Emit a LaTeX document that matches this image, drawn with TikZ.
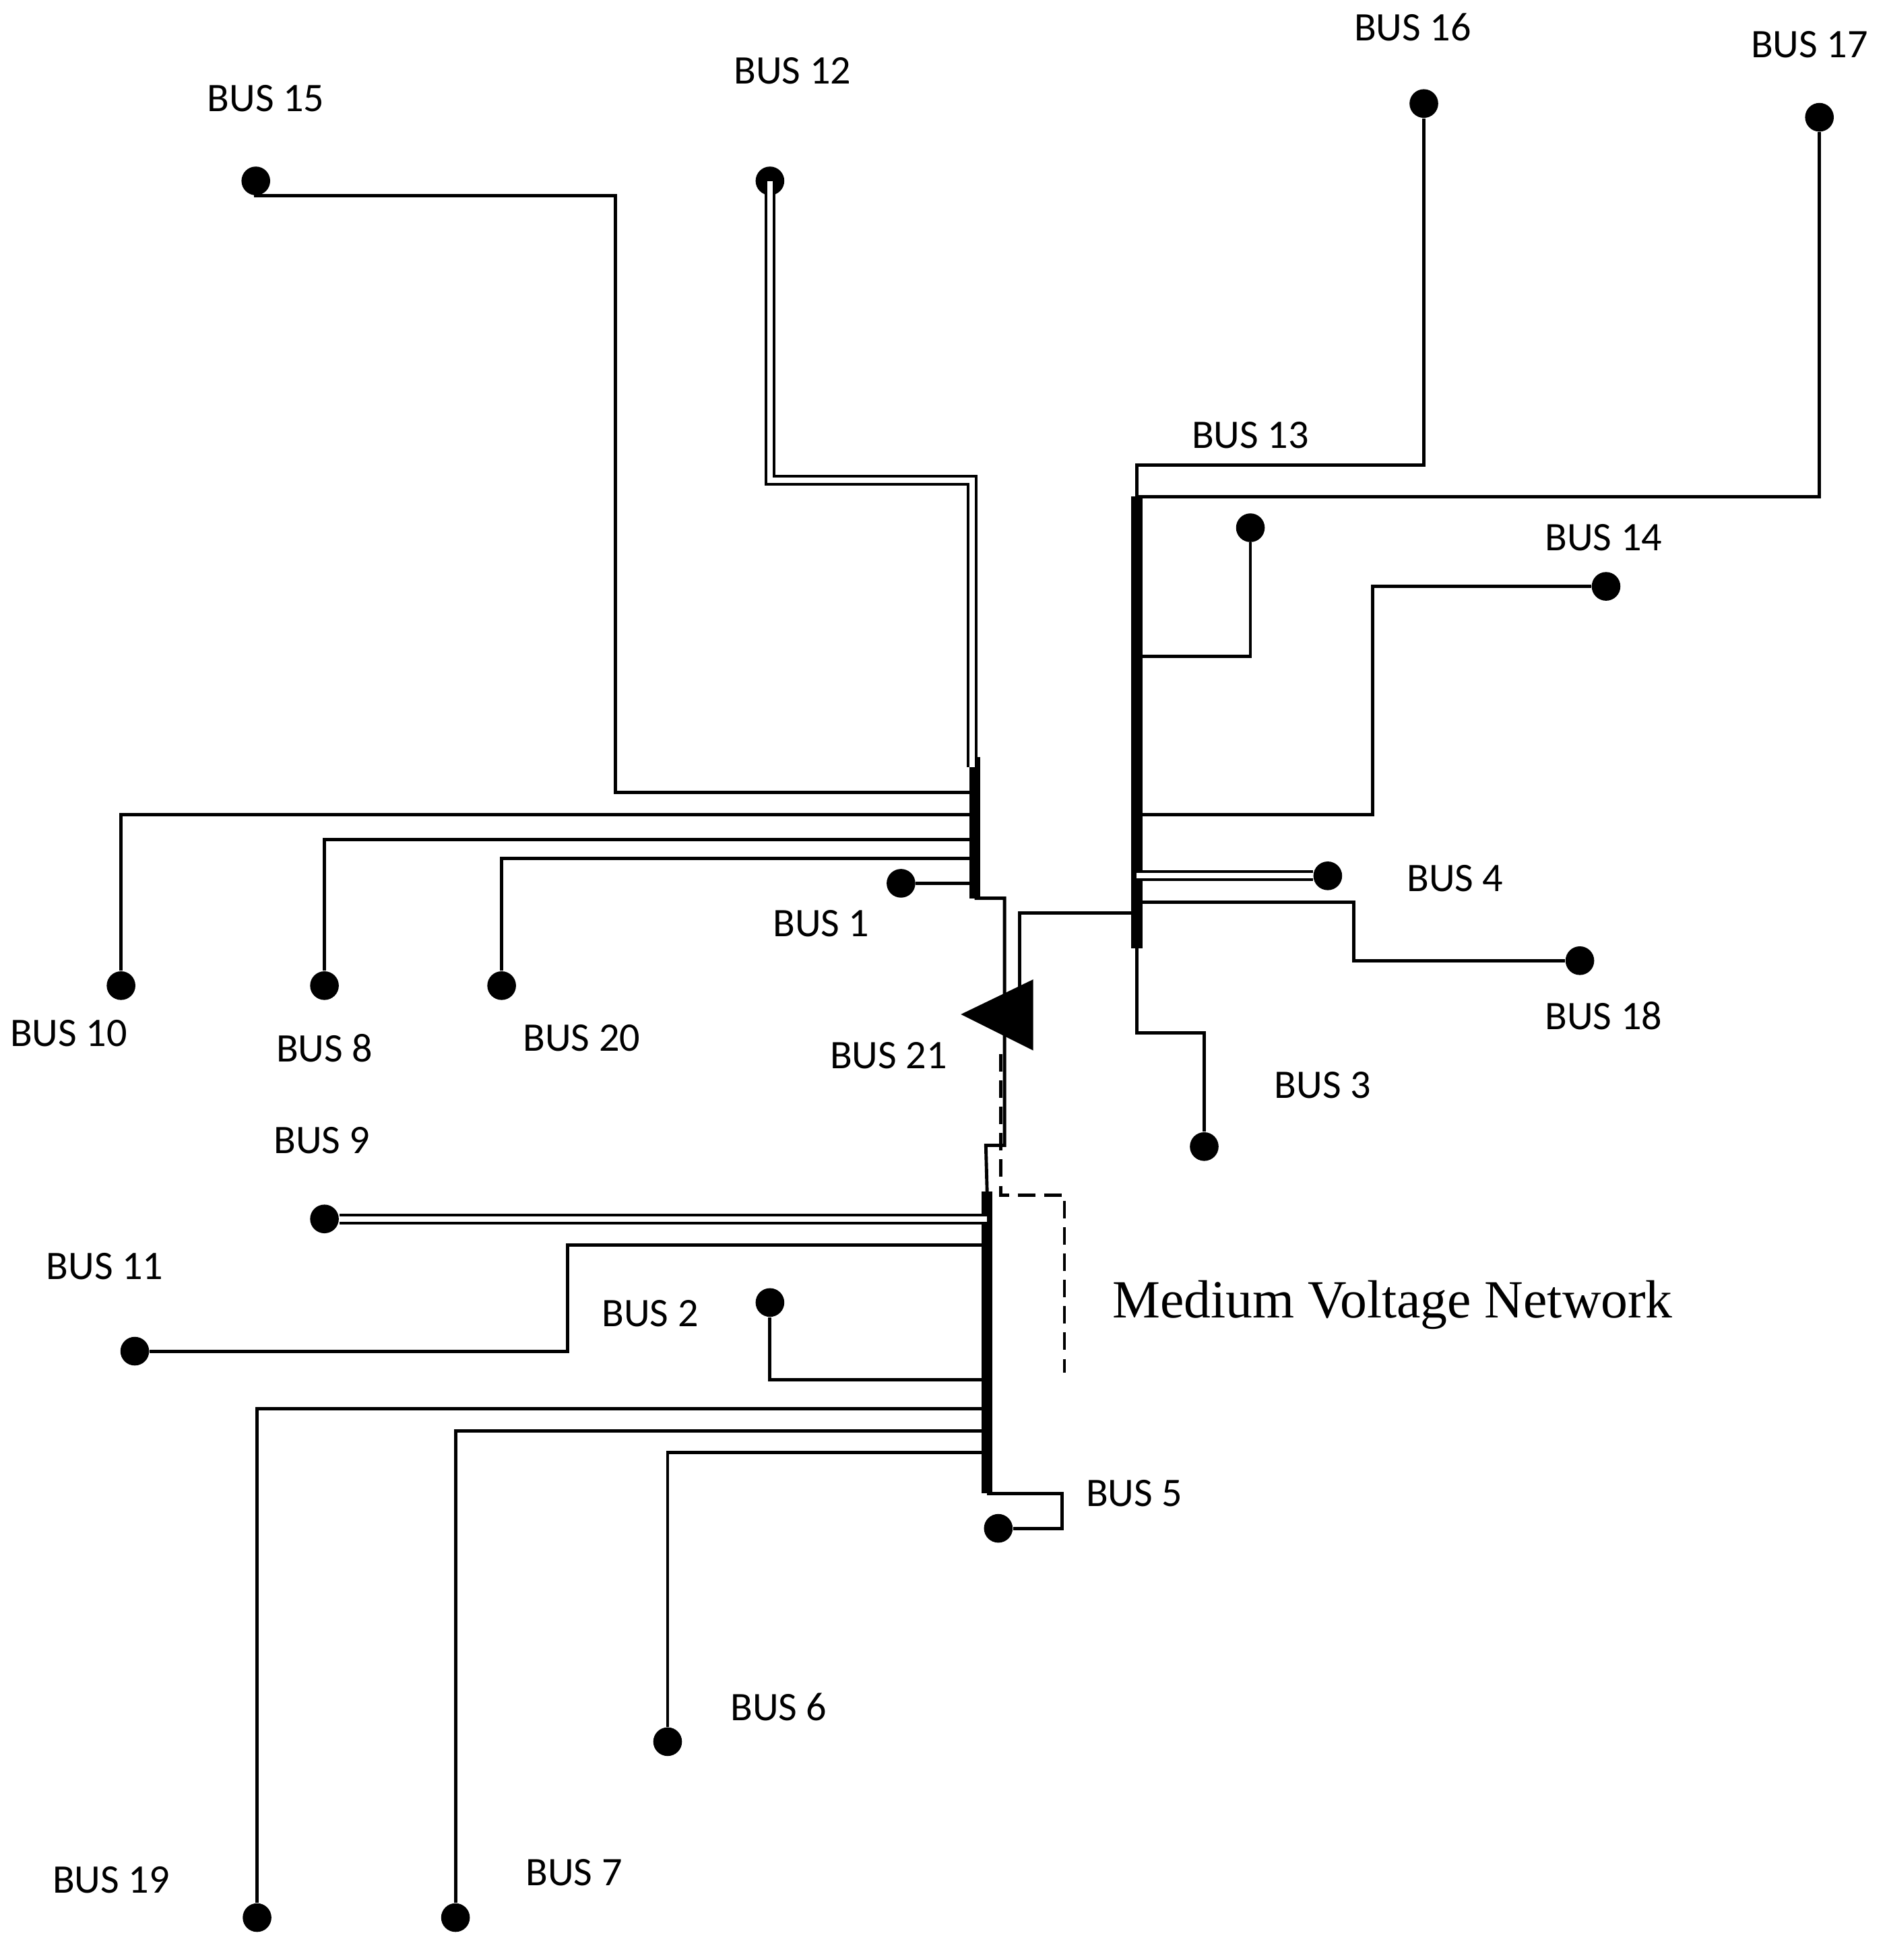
\documentclass[tikz,border=0pt]{standalone}
\usepackage{fontspec}
\setmainfont{Liberation Serif}
\newfontfamily\lbl{Carlito}
\begin{document}
\begin{tikzpicture}[x=0.02cm,y=-0.02cm,
  dot/.style={circle,fill=black,inner sep=0pt,minimum size=0.46cm},
  lab/.style={font=\lbl\fontsize{18.5}{22}\selectfont,inner sep=0pt},
  ln/.style={line width=1.5pt},
  dbl/.style={line width=1.3pt,double distance=2.4pt},
  bar/.style={line width=5pt}]
\useasboundingbox (0,0) rectangle (1512,1571);
% dots
\node[dot] (b15) at (205,145) {};
\node[dot] (b12) at (617,145) {};
\node[dot] (b16) at (1141,83) {};
\node[dot] (b17) at (1458,94) {};
\node[dot] (bx) at (1002,423) {};
\node[dot] (b14) at (1287,470) {};
\node[dot] (b4) at (1064,702) {};
\node[dot] (b18) at (1266,770) {};
\node[dot] (b3) at (965,919) {};
\node[dot] (b1) at (722,708) {};
\node[dot] (b10) at (97,790) {};
\node[dot] (b8) at (260,790) {};
\node[dot] (b20) at (402,790) {};
\node[dot] (b9) at (260,977) {};
\node[dot] (b11) at (108,1083) {};
\node[dot] (b2) at (617,1044) {};
\node[dot] (b19) at (206,1537) {};
\node[dot] (b7) at (365,1537) {};
\node[dot] (b6) at (535,1396) {};
\node[dot] (b5) at (800,1225) {};
% bus bars
\coordinate (Lt) at (781,607); \coordinate (Lb) at (781,720);
\coordinate (Rt) at (911,398); \coordinate (Rb) at (911,760);
\coordinate (Dt) at (791,955); \coordinate (Db) at (791,1197);
\draw[bar] (Lt) -- (Lb);
\draw[bar] (Rt) -- (Rb);
\draw[bar] (Dt) -- (Db);
% left bus feeders
\draw[ln] (b15.center) -- (205,157) -- (493,157) -- (493,635) -- (781,635);
\draw[dbl] (b12.center) -- (617,385) -- (779,385) -- (779,615);
\draw[ln] (b10) -- (97,653) -- (781,653);
\draw[ln] (b8) -- (260,673) -- (781,673);
\draw[ln] (b20) -- (402,688) -- (781,688);
\draw[ln] (b1) -- (781,708);
% transformer
\coordinate (tr) at (770,813);
\fill (tr) -- (828,785) -- (828,842) -- cycle;
\draw[ln] (Lb) -- (805,720) -- (805,918) -- (790,918) -- (Dt);
\draw[ln] (817,800) -- (817,732) -- (911,732);
\draw[line width=1.5pt,dash pattern=on 8pt off 4pt] (802,845) -- (802,958) -- (853,958) -- (853,1100);
% right bus feeders
\draw[ln] (Rt) -- (911,373) -- (1141,373) -- (b16);
\draw[ln] (b17) -- (1458,398) -- (911,398);
\draw[ln] (bx) -- (1002,526) -- (911,526);
\draw[ln] (b14) -- (1100,470) -- (1100,653) -- (911,653);
\draw[dbl] (b4) -- (911,702);
\draw[ln] (b18) -- (1085,770) -- (1085,723) -- (911,723);
\draw[ln] (Rb) -- (911,828) -- (965,828) -- (b3);
% lower bus feeders
\draw[dbl] (b9) -- (791,977);
\draw[ln] (b11) -- (455,1083) -- (455,998) -- (791,998);
\draw[ln] (b2) -- (617,1106) -- (791,1106);
\draw[ln] (b19) -- (206,1129) -- (791,1129);
\draw[ln] (b7) -- (365,1147) -- (791,1147);
\draw[ln] (b6) -- (535,1164) -- (791,1164);
\draw[ln] (Db) -- (851,1197) -- (851,1225) -- (b5);
% labels
\node[lab] at (213,79) {BUS 15};
\node[lab] at (635,57) {BUS 12};
\node[lab] at (1132,22) {BUS 16};
\node[lab] at (1450,36) {BUS 17};
\node[lab] at (1002,349) {BUS 13};
\node[lab] at (1285,431) {BUS 14};
\node[lab] at (1166,704) {BUS 4};
\node[lab] at (1285,814) {BUS 18};
\node[lab] at (1060,870) {BUS 3};
\node[lab] at (712,846) {BUS 21};
\node[lab] at (658,740) {BUS 1};
\node[lab] at (55,828) {BUS 10};
\node[lab] at (260,840) {BUS 8};
\node[lab] at (466,832) {BUS 20};
\node[lab] at (258,914) {BUS 9};
\node[lab] at (84,1015) {BUS 11};
\node[lab] at (521,1053) {BUS 2};
\node[lab] at (909,1197) {BUS 5};
\node[lab] at (624,1368) {BUS 6};
\node[lab] at (89,1507) {BUS 19};
\node[lab] at (460,1501) {BUS 7};
\node[font=\fontsize{24.5}{28}\selectfont,inner sep=0pt] at (1116,1046) {Medium Voltage Network};
\end{tikzpicture}
\end{document}
